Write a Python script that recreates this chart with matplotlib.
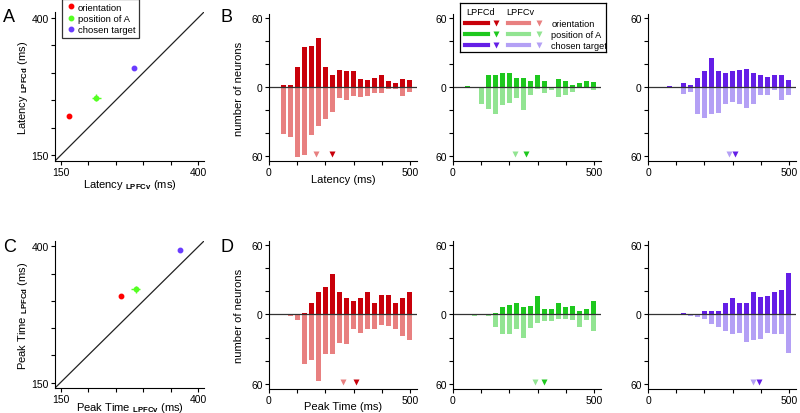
import matplotlib
matplotlib.use("Agg")
import matplotlib.pyplot as plt
from matplotlib.lines import Line2D
import numpy as np

plt.rcParams['font.family'] = ['Liberation Sans', 'DejaVu Sans']
plt.rcParams['mathtext.fontset'] = 'custom'
plt.rcParams['mathtext.rm'] = 'Liberation Sans'
plt.rcParams['mathtext.bf'] = 'Liberation Sans:bold'
plt.rcParams['font.size'] = 7.5

# ---- data ----
factors = ["orientation", "position of A", "chosen target"]
bins = [50, 75, 100, 125, 150, 175, 200, 225, 250, 275, 300, 325, 350, 375, 400, 425, 450, 475, 500]

# latency histograms (LPFCd up, LPFCv down)
lat_d = [
    [2, 2, 17, 35, 36, 43, 17, 10, 15, 14, 14, 7, 6, 8, 10, 5, 3, 7, 6],
    [1, 0, 0, 10, 10, 12, 12, 8, 8, 5, 10, 5, 0, 7, 5, 2, 3, 5, 4],
    [0, 1, 0, 3, 2, 8, 14, 25, 14, 12, 14, 15, 16, 12, 10, 9, 10, 10, 6],
]
lat_v = [
    [41, 44, 61, 59, 42, 34, 28, 22, 10, 11, 8, 9, 8, 5, 5, 2, 2, 8, 4],
    [0, 1, 15, 19, 24, 16, 14, 10, 20, 7, 2, 5, 3, 9, 7, 4, 0, 0, 3],
    [0, 0, 0, 6, 4, 24, 27, 24, 23, 15, 13, 15, 18, 15, 7, 7, 3, 11, 7],
]
lat_mean_d = [222, 258, 310]
lat_mean_v = [166, 221, 286]

# peak time histograms
pk_d = [
    [0, 0, 0, 1, 10, 19, 24, 35, 19, 14, 12, 14, 19, 10, 17, 17, 10, 14, 19],
    [0, 0, 0, 0, 1, 6, 8, 10, 6, 7, 16, 5, 5, 10, 6, 7, 3, 5, 12],
    [0, 0, 0, 1, 0, 0, 3, 3, 3, 10, 14, 10, 10, 19, 15, 16, 19, 21, 36],
]
pk_v = [
    [0, 1, 5, 43, 39, 58, 34, 34, 25, 26, 13, 16, 13, 13, 9, 10, 13, 19, 22],
    [0, 1, 0, 1, 11, 17, 17, 13, 20, 12, 7, 6, 6, 4, 4, 5, 11, 5, 14],
    [0, 0, 0, 0, 1, 2, 4, 8, 11, 14, 17, 16, 24, 22, 21, 16, 17, 17, 33],
]
pk_mean_d = [310, 324, 395]
pk_mean_v = [261, 290, 371]

# scatter (mean +- sem)
lat_x = [166, 215, 283]
lat_y = [222, 255, 308]
lat_xerr = [3, 8, 4]
lat_yerr = [4, 6, 4]
pk_x = [260, 286, 366]
pk_y = [309, 321, 393]
pk_xerr = [4, 8, 4]
pk_yerr = [4, 7, 3]

dark = ['#C8000A', '#1EC81E', '#641EE6']
light = ['#E88080', '#92E492', '#B4A0F5']
dot = ['#FF0000', '#55FF22', '#6A3CFF']

fig = plt.figure(figsize=(8, 4.14), dpi=100)


def px(l, t, r, b):
    return [l / 800, 1 - b / 414, (r - l) / 800, (b - t) / 414]


def style(ax):
    ax.spines['top'].set_visible(False)
    ax.spines['right'].set_visible(False)
    ax.tick_params(direction='out', length=3, width=0.8, pad=1.5)


def scatter_panel(ax, x, y, xerr, yerr, xlab, ylab, xlab_y):
    style(ax)
    ax.plot([140, 410], [140, 410], color='#222222', lw=0.9)
    for i in range(3):
        ax.errorbar(x[i], y[i], xerr=xerr[i], yerr=yerr[i], fmt='o', ms=3.2,
                    color=dot[i], ecolor=dot[i], elinewidth=1, capsize=0)
    ax.set_xlim(140, 410)
    ax.set_ylim(140, 410)
    ticks = [150, 200, 250, 300, 350, 400]
    lab = ['150', '', '', '', '', '400']
    ax.set_xticks(ticks, lab)
    ax.set_yticks(ticks, lab)
    ax.set_xlabel(xlab, fontsize=8)
    ax.set_ylabel(ylab, fontsize=8)
    ax.xaxis.set_label_coords(0.5, xlab_y)
    ax.yaxis.set_label_coords(-0.17, 0.5)


def hist_panel(ax, d, v, md, mv, i, xlab=None, xlab_y=-0.085, ylab=False):
    style(ax)
    ax.bar(bins, d, width=18, color=dark[i], linewidth=0)
    ax.bar(bins, [-val for val in v], width=18, color=light[i], linewidth=0)
    ax.axhline(0, color='#333333', lw=0.9)
    ax.plot([mv], [-58.5], 'v', color=light[i], ms=5, mec='none')
    ax.plot([md], [-58.5], 'v', color=dark[i], ms=5, mec='none')
    ax.set_xlim(0, 525)
    ax.set_ylim(-64.5, 63.5)
    ax.set_xticks([0, 100, 200, 300, 400, 500], ['0', '', '', '', '', '500'])
    ax.set_yticks([-60, -40, -20, 0, 20, 40, 60], ['60', '', '', '0', '', '', '60'])
    if xlab:
        ax.set_xlabel(xlab, fontsize=8)
        ax.xaxis.set_label_coords(0.5, xlab_y)
    if ylab:
        ax.set_ylabel('number of neurons', fontsize=8)
        ax.yaxis.set_label_coords(-0.17, 0.5)


axA = fig.add_axes(px(55, 13, 204, 162))
scatter_panel(axA, lat_x, lat_y, lat_xerr, lat_yerr,
              r'Latency $_{\mathbf{LPFCv}}$ (ms)', r'Latency $_{\mathbf{LPFCd}}$ (ms)', -0.105)
handles = [Line2D([], [], marker='o', ls='none', ms=3.2, color=dot[i]) for i in range(3)]
leg = axA.legend(handles, factors, loc='upper left', bbox_to_anchor=(0.047, 1.085),
                 borderaxespad=0, fancybox=False, edgecolor='black', fontsize=6.8,
                 handletextpad=0.0, borderpad=0.35, labelspacing=0.25, handlelength=1.3)
leg.get_frame().set_linewidth(0.9)

axC = fig.add_axes(px(55, 242, 204, 389))
scatter_panel(axC, pk_x, pk_y, pk_xerr, pk_yerr,
              r'Peak Time $_{\mathbf{LPFCv}}$ (ms)', r'Peak Time $_{\mathbf{LPFCd}}$ (ms)', -0.08)

lefts = [269, 453, 648]
for i in range(3):
    axb = fig.add_axes(px(lefts[i], 15, lefts[i] + 148, 162))
    hist_panel(axb, lat_d[i], lat_v[i], lat_mean_d[i], lat_mean_v[i], i,
               xlab='Latency (ms)' if i == 0 else None, xlab_y=-0.088, ylab=(i == 0))
    axd = fig.add_axes(px(lefts[i], 242, lefts[i] + 148, 390))
    hist_panel(axd, pk_d[i], pk_v[i], pk_mean_d[i], pk_mean_v[i], i,
               xlab='Peak Time (ms)' if i == 0 else None, xlab_y=-0.08, ylab=(i == 0))

# custom legend box for the histograms
lg = fig.add_axes(px(460, 4, 606, 53))
lg.set_xlim(0, 1)
lg.set_ylim(0, 1)
lg.set_xticks([])
lg.set_yticks([])
for s in lg.spines.values():
    s.set_linewidth(0.9)
lg.text(0.045, 0.82, 'LPFCd', fontsize=6.6, va='center')
lg.text(0.32, 0.82, 'LPFCv', fontsize=6.6, va='center')
rows = [0.59, 0.365, 0.14]
for i in range(3):
    y = rows[i]
    lg.plot([0.035, 0.19], [y, y], color=dark[i], lw=3)
    lg.plot([0.245], [y], 'v', color=dark[i], ms=4.5, mec='none')
    lg.plot([0.33, 0.475], [y, y], color=light[i], lw=3)
    lg.plot([0.54], [y], 'v', color=light[i], ms=4.5, mec='none')
    lg.text(0.625, y, factors[i], fontsize=6.6, va='center')

# panel letters
for letter, x, y in [('A', 3, 22), ('B', 221, 22), ('C', 3, 252), ('D', 221, 252)]:
    fig.text(x / 800, 1 - y / 414, letter, fontsize=13)

fig.savefig('out.png', dpi=100)
